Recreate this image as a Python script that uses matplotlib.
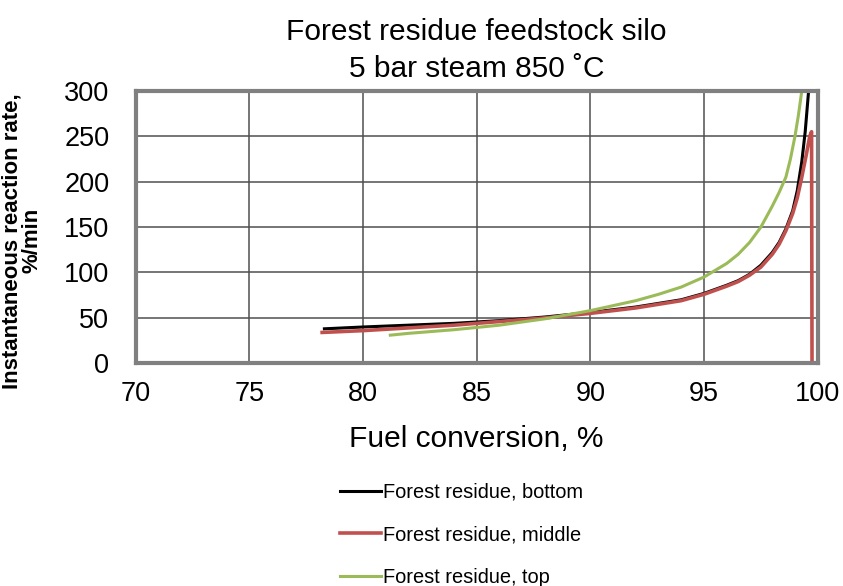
import matplotlib.pyplot as plt

plt.rcParams['font.family'] = ['Liberation Sans', 'DejaVu Sans']

# Forest residue, bottom
x_bottom = [78.3, 80, 82, 84, 86, 88, 90, 92, 94, 95, 96, 96.5, 97, 97.5, 98, 98.3, 98.6,
            98.9, 99.1, 99.3, 99.45, 99.6]
y_bottom = [38, 40, 42, 44, 47, 51, 56, 62, 70, 77, 86, 91, 98, 108, 122, 133, 148,
            168, 190, 222, 255, 300]

# Forest residue, middle
x_middle = [78.2, 80, 82, 84, 86, 88, 90, 92, 94, 95, 96, 96.5, 97, 97.5, 98, 98.3, 98.6,
            98.9, 99.1, 99.3, 99.5, 99.65, 99.73, 99.75]
y_middle = [34, 36, 39, 42, 46, 50, 55, 61, 69, 76, 85, 90, 97, 106, 120, 131, 146,
            165, 182, 205, 230, 250, 255, 0]

# Forest residue, top
x_top = [81.2, 82, 84, 86, 88, 90, 92, 93, 94, 95, 96, 96.5, 97, 97.5, 98, 98.3, 98.6,
         98.8, 99.0, 99.15, 99.3]
y_top = [31, 33, 37, 42, 49, 58, 69, 76, 84, 95, 110, 120, 133, 150, 173, 188, 205,
         225, 250, 273, 300]

fig = plt.figure(figsize=(8.43, 5.86), dpi=100)
ax = fig.add_axes([0.161, 0.380, 0.809, 0.465])

ax.plot(x_bottom, y_bottom, color='black', lw=2.2, label='Forest residue, bottom')
ax.plot(x_middle, y_middle, color='#c0504d', lw=2.6, label='Forest residue, middle')
ax.plot(x_top, y_top, color='#9bbb59', lw=2.2, label='Forest residue, top')

ax.set_xlim(70, 100)
ax.set_ylim(0, 300)
ax.set_xticks(range(70, 101, 5))
ax.set_yticks(range(0, 301, 50))
ax.tick_params(length=0, labelsize=19.5)
ax.tick_params(axis='x', pad=13)
ax.tick_params(axis='y', pad=19)
ax.grid(True, color='#4f4f4f', lw=1.1)
ax.set_axisbelow(True)
for s in ax.spines.values():
    s.set_color('#808080')
    s.set_linewidth(3)

ax.set_title('Forest residue feedstock silo\n5 bar steam 850 \u02daC', fontsize=21.5,
             linespacing=1.4, pad=10)
ax.set_xlabel('Fuel conversion, %', fontsize=21.5, labelpad=13)
ax.set_ylabel('Instantaneous reaction rate,\n%/min', fontsize=16, fontweight='bold',
              linespacing=0.9)
ax.yaxis.set_label_coords(-0.137, 0.45)

fig.legend(loc='upper left', bbox_to_anchor=(0.394, 0.19), frameon=False, fontsize=14.4,
           handlelength=2.05, handletextpad=0.1, labelspacing=1.18, borderaxespad=0)

plt.savefig('out.png', dpi=100)
